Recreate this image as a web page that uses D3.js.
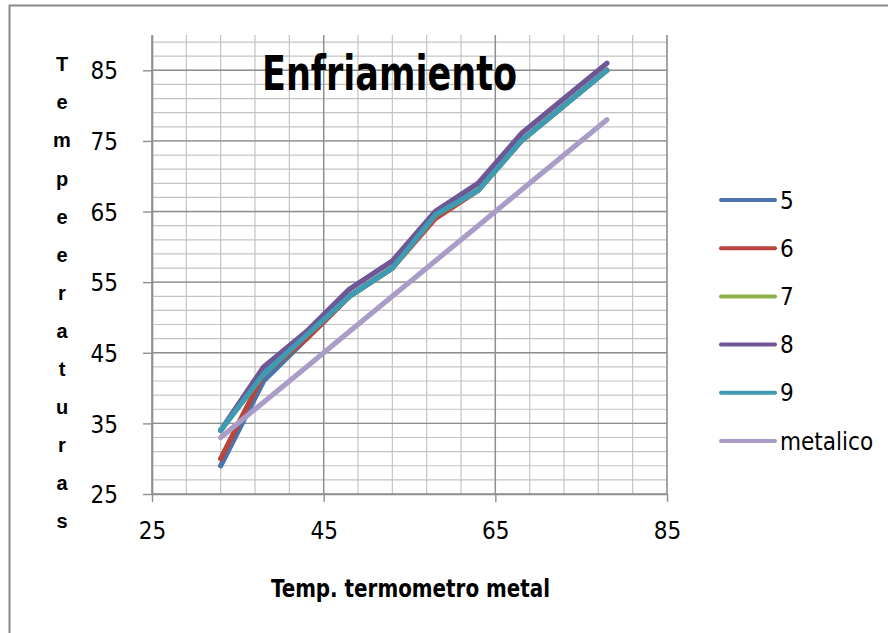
<!DOCTYPE html>
<html lang="es">
<head>
<meta charset="UTF-8" />
<title>Enfriamiento</title>
<script src="https://cdn.jsdelivr.net/npm/d3@7"></script>
<style>
  body { margin: 0; background: #fff; }
  svg text { fill: #000; }
  .tick text { font-family: "Liberation Sans Narrow", "DejaVu Sans Condensed", sans-serif; font-size: 24px; }
</style>
</head>
<body>
<div id="chart"></div>
<script>
// x values (Temp. termometro metal) shared by all series
var xVals = [33, 38, 43, 48, 53, 58, 63, 68, 78];

var seriesNames = ["5", "6", "7", "8", "9", "metalico"];
var s5 = [29, 41, 47, 53, 57, 64.5, 68, 75, 85];
var s6 = [30, 42, 47, 53, 57, 64, 68, 75, 85];
var s7 = [34, 42, 47.5, 53, 57, 64.5, 68, 75, 85];
var s8 = [34, 43, 48, 54, 58, 65, 69, 76, 86];
var s9 = [34, 42, 47.5, 53, 57, 64.5, 68, 75, 85];
var metalico = [33, 38, 43, 48, 53, 58, 63, 68, 78];
var seriesColors = ["#4a74ac", "#b7463f", "#8db04a", "#6f5695", "#3d9cb3", "#a99cc6"];

var xTicks = [25, 45, 65, 85];
var yTicks = [25, 35, 45, 55, 65, 75, 85];

var W = 888, H = 633;
// plot area edges
var pLeft = 152, pRight = 667, pTop = 35, pBottom = 494;

var svg = d3.select("#chart").append("svg")
    .attr("width", W)
    .attr("height", H);

// outer chart border
svg.append("rect")
   .attr("x", 9.5).attr("y", 5.5)
   .attr("width", 900).attr("height", 700)
   .attr("fill", "none")
   .attr("stroke", "#8a8a8a")
   .attr("stroke-width", 2);

var xScale = d3.scaleLinear().domain([25, 85]).range([pLeft, pRight]);
var yScale = d3.scaleLinear().domain([25, 90]).range([pBottom, pTop]);

// gridlines: minor first, then major
var grid = svg.append("g");
grid.selectAll("line.vminor")
    .data(d3.range(25, 86, 4))
    .enter().append("line")
    .attr("x1", function(d) { return xScale(d); })
    .attr("x2", function(d) { return xScale(d); })
    .attr("y1", pTop).attr("y2", pBottom)
    .attr("stroke", "#c3c3c3").attr("stroke-width", 1.2);
grid.selectAll("line.hminor")
    .data(d3.range(27, 90, 2))
    .enter().append("line")
    .attr("x1", pLeft).attr("x2", pRight)
    .attr("y1", function(d) { return yScale(d); })
    .attr("y2", function(d) { return yScale(d); })
    .attr("stroke", "#c3c3c3").attr("stroke-width", 1.2);
grid.selectAll("line.vmajor")
    .data(xTicks)
    .enter().append("line")
    .attr("x1", function(d) { return xScale(d); })
    .attr("x2", function(d) { return xScale(d); })
    .attr("y1", pTop).attr("y2", pBottom)
    .attr("stroke", "#8e8e8e").attr("stroke-width", 1.4);
grid.selectAll("line.hmajor")
    .data(yTicks)
    .enter().append("line")
    .attr("x1", pLeft).attr("x2", pRight)
    .attr("y1", function(d) { return yScale(d); })
    .attr("y2", function(d) { return yScale(d); })
    .attr("stroke", "#8e8e8e").attr("stroke-width", 1.4);

// axes
var xAxis = d3.axisBottom(xScale).tickValues(xTicks).tickSizeInner(8).tickSizeOuter(0).tickPadding(20);
var gx = svg.append("g")
    .attr("transform", "translate(0," + pBottom + ")")
    .call(xAxis);

var yAxis = d3.axisLeft(yScale).tickValues(yTicks).tickSizeInner(9).tickSizeOuter(0).tickPadding(25);
var gy = svg.append("g")
    .attr("transform", "translate(" + pLeft + ",0)")
    .call(yAxis);

svg.selectAll(".domain").attr("stroke", "#8e8e8e").attr("stroke-width", 1.6);
svg.selectAll(".tick line").attr("stroke", "#8e8e8e").attr("stroke-width", 1.4);
gy.selectAll(".tick text").attr("dy", "0.36em");

// series lines
var allSeries = [s5, s6, s7, s8, s9, metalico];
var line = d3.line()
    .x(function(d, i) { return xScale(xVals[i]); })
    .y(function(d) { return yScale(d); });

svg.selectAll("path.serie")
   .data(allSeries)
   .enter().append("path")
   .attr("class", "serie")
   .attr("d", line)
   .attr("fill", "none")
   .attr("stroke", function(d, i) { return seriesColors[i]; })
   .attr("stroke-width", 5.2)
   .attr("stroke-linejoin", "round")
   .attr("stroke-linecap", "round");

// title
svg.append("text")
   .attr("x", 262).attr("y", 90)
   .attr("textLength", 255)
   .attr("lengthAdjust", "spacingAndGlyphs")
   .style("font-family", "'Liberation Sans Narrow', 'DejaVu Sans Condensed', sans-serif")
   .style("font-weight", "bold")
   .style("font-size", "48px")
   .text("Enfriamiento");

// x axis title
svg.append("text")
   .attr("x", 271).attr("y", 597)
   .attr("textLength", 279)
   .attr("lengthAdjust", "spacingAndGlyphs")
   .style("font-family", "'Liberation Sans Narrow', 'DejaVu Sans Condensed', sans-serif")
   .style("font-weight", "bold")
   .style("font-size", "25px")
   .text("Temp. termometro metal");

// y axis title, stacked letters
var yTitle = "Tempeeraturas".split("");
svg.selectAll("text.ylet")
   .data(yTitle)
   .enter().append("text")
   .attr("class", "ylet")
   .attr("x", 62)
   .attr("y", function(d, i) { return 64 + i * 38.1; })
   .attr("dy", "0.36em")
   .attr("text-anchor", "middle")
   .style("font-family", "'Liberation Sans', Arial, sans-serif")
   .style("font-weight", "bold")
   .style("font-size", "20px")
   .text(function(d) { return d; });

// legend
var legend = svg.selectAll("g.leg")
    .data(seriesNames)
    .enter().append("g")
    .attr("class", "leg")
    .attr("transform", function(d, i) { return "translate(721," + (200 + i * 48.2) + ")"; });
legend.append("line")
    .attr("x1", 0).attr("x2", 54)
    .attr("stroke", function(d, i) { return seriesColors[i]; })
    .attr("stroke-width", 4)
    .attr("stroke-linecap", "round");
legend.append("text")
    .attr("x", 59).attr("dy", "0.36em")
    .style("font-family", "'Liberation Sans Narrow', 'DejaVu Sans Condensed', sans-serif")
    .style("font-size", "24px")
    .text(function(d) { return d; });
</script>
</body>
</html>
